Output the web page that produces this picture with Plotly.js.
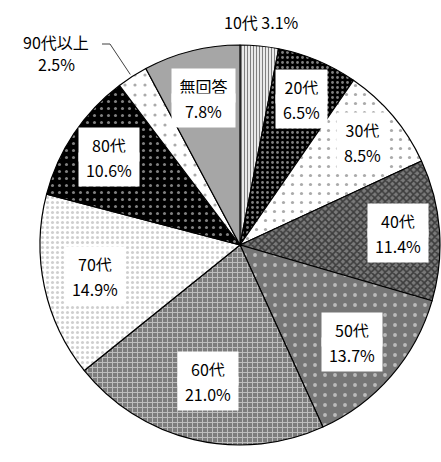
<!DOCTYPE html>
<html>
<head>
<meta charset="utf-8">
<script src="https://cdn.plot.ly/plotly-3.0.1.min.js"></script>
<style>body{margin:0;background:#fff}#chart{width:441px;height:462px}</style>
</head>
<body>
<div id="chart"></div>
<script>
// Data
const categories = ["10代", "20代", "30代", "40代", "50代", "60代", "70代", "80代", "90代以上", "無回答"];
const percents = [3.1, 6.5, 8.5, 11.4, 13.7, 21.0, 14.9, 10.6, 2.5, 7.8];

// Styles
const bgColors  = ["#ffffff", "#000000", "#ffffff", "#7a7a7a", "#767676", "#7c7c7c", "#ffffff", "#000000", "#ffffff", "#a6a6a6"];
const fgColors  = ["#000000", "#ffffff", "#555555", "#000000", "#ffffff", "#ffffff", "#a0a0a0", "#ffffff", "#555555", "#a6a6a6"];
const shapes    = ["|", ".", ".", "x", ".", "+", ".", ".", ".", ""];
const sizes     = [3, 5, 9, 5, 10, 5, 5, 7, 10, 6];
const solid     = [0.45, 0.25, 0.1, 0.55, 0.12, 0.35, 0.3, 0.15, 0.08, 0.3];
const labelR    = [1.12, 0.79, 0.80, 0.79, 0.74, 0.70, 0.74, 0.79, null, 0.76];

const FONT = "'Noto Sans CJK JP', 'Noto Sans', sans-serif";
const FS = 16;
const LINE = 25;

const ctx = document.createElement("canvas").getContext("2d");
ctx.font = FS + "px 'Noto Sans CJK JP', 'Noto Sans', sans-serif";
const tw = s => ctx.measureText(s).width;

const trace = {
  type: "pie",
  labels: categories,
  values: percents,
  sort: false,
  direction: "clockwise",
  rotation: 0,
  textinfo: "none",
  hoverinfo: "label+percent",
  showlegend: false,
  marker: {
    colors: bgColors,
    line: {color: "#000000", width: 1.2},
    pattern: {
      shape: shapes,
      fgcolor: fgColors,
      bgcolor: bgColors,
      size: sizes,
      solidity: solid,
      fillmode: "overlay"
    }
  }
};

const total = percents.reduce((a, b) => a + b, 0);
const annotations = [];
const shapesL = [];
let cum = 0;
percents.forEach((v, i) => {
  const mid = (cum + v / 2) / total * 2 * Math.PI;
  cum += v;
  const pct = v.toFixed(1) + "%";
  const base = {xref: "paper", yref: "paper", xanchor: "center", yanchor: "middle",
                showarrow: false, font: {family: FONT, size: FS, color: "#000"}};
  if (i === 0) {
    annotations.push(Object.assign({}, base, {
      x: 0.5 + 0.5 * labelR[i] * Math.sin(mid),
      y: 0.5 + 0.5 * labelR[i] * Math.cos(mid),
      text: categories[i] + " " + pct
    }));
  } else if (labelR[i] === null) {
    const px = 0.5 + 0.5 * Math.sin(mid), py = 0.5 + 0.5 * Math.cos(mid);
    annotations.push(Object.assign({}, base, {x: 0.04, y: 1.0075, text: categories[i]}));
    annotations.push(Object.assign({}, base, {x: 0.04, y: 0.9525, text: pct}));
    shapesL.push({
      type: "path", xref: "paper", yref: "paper",
      path: "M 0.155 1.0025 L 0.175 1.0025 L " + (px - 0.005) + " " + (py + 0.005),
      line: {color: "#404040", width: 1}
    });
  } else {
    const cx = 0.5 + 0.5 * labelR[i] * Math.sin(mid);
    const cy = 0.5 + 0.5 * labelR[i] * Math.cos(mid);
    const w = Math.ceil(Math.max(tw(categories[i]), tw(pct))) + 6;
    [categories[i], pct].forEach((t, k) => {
      annotations.push(Object.assign({}, base, {
        x: cx, y: cy, yshift: k === 0 ? LINE / 2 : -LINE / 2,
        text: t, width: w, height: LINE, align: "center",
        bgcolor: "#ffffff", borderpad: 4
      }));
    });
  }
});

const layout = {
  width: 441, height: 462,
  margin: {l: 40, r: 1, t: 45, b: 17},
  paper_bgcolor: "#ffffff",
  annotations: annotations,
  shapes: shapesL,
  font: {family: FONT}
};

Plotly.newPlot("chart", [trace], layout, {displayModeBar: false, staticPlot: true});
</script>
</body>
</html>
